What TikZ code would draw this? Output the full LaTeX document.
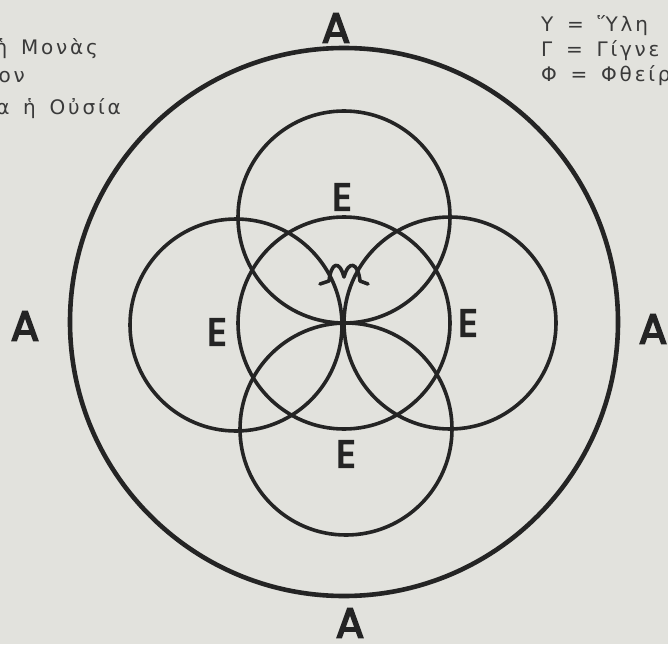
\documentclass[tikz,border=0pt]{standalone}
\usepackage{fontspec}
\setmainfont{DejaVu Sans}
\newfontfamily\legendfont[LetterSpace=14, WordSpace=1.5]{DejaVu Sans}
\newfontfamily\letterfont[FakeBold=4]{Poppins}
\definecolor{paper}{RGB}{226,226,221}
\definecolor{ink}{RGB}{36,36,36}
\definecolor{print}{RGB}{58,58,58}
\tikzset{
  ring/.style={draw=ink, line width=3.6pt},
  bigletter/.style={font=\letterfont\fontsize{42}{42}\selectfont, text=ink, inner sep=0pt},
  eletter/.style={font=\letterfont\fontsize{38}{38}\selectfont, text=ink, inner sep=0pt},
  legend/.style={font=\legendfont\fontsize{20}{20}\selectfont, text=print, inner sep=0pt},
}
\begin{document}
\begin{tikzpicture}[x=1pt, y=-1pt]
  \fill[paper] (0,0) rectangle (668,644);
  \useasboundingbox (0,0) rectangle (668,644);
  \draw[ring, line width=4.6pt] (344,322) circle[radius=274];
  \coordinate (monas) at (344,323);
  \draw[ring] (monas) circle[radius=106];
  \foreach \x/\y in {344/217, 236/325, 450/323, 346/429}{
    \draw[ring] (\x,\y) circle[radius=106];
  }
  \draw[draw=ink, line width=3.6pt, line cap=round, line join=round]
    (320,284) -- (329,281) .. controls (331,263) and (339,259) .. (344,277)
    .. controls (349,259) and (358,263) .. (360,281) -- (368,284);
  \node[eletter] (eTop) at (342,197) {E};
  \node[eletter] (eLeft) at (217,332) {E};
  \node[eletter] (eRight) at (468,323) {E};
  \node[eletter] (eBottom) at (346,454) {E};
  \node[bigletter] (aTop) at (336,28) {A};
  \node[bigletter] (aLeft) at (25,326) {A};
  \node[bigletter] (aRight) at (653,329) {A};
  \node[bigletter] (aBottom) at (350,623) {A};
  \node[legend, anchor=base east] (monasText) at (98,55) {ἡ Μονὰς};
  \node[legend, anchor=base east] (onText) at (25,83) {ον};
  \node[legend, anchor=base east] (usiaText) at (121,115) {α ἡ Οὐσία};
  \node[legend, anchor=base west] (hyleText) at (541,32) {Υ = Ὕλη};
  \node[legend, anchor=base west] (gignText) at (541,57) {Γ = Γίγνε};
  \node[legend, anchor=base west] (phthText) at (541,82) {Φ = Φθείρ};
\end{tikzpicture}
\end{document}
